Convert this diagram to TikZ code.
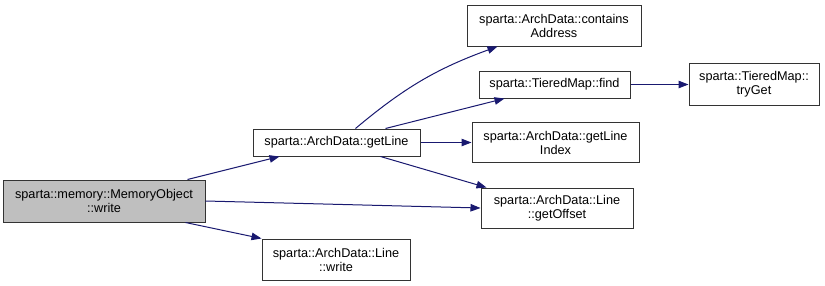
\documentclass[tikz,border=0pt]{standalone}
\usepackage{fontspec}
\setmainfont{Liberation Sans}
\usetikzlibrary{arrows.meta}
\definecolor{callblue}{RGB}{25,25,112}
\definecolor{boxgray}{RGB}{191,191,191}

\begin{document}
\begin{tikzpicture}[x=1pt,y=-1pt,
  fn/.style={draw=black!80, line width=1pt, fill=white, align=center, inner sep=0pt,
    font=\fontsize{12.7}{14}\selectfont},
  call/.style={draw=callblue, line width=1pt, -{Triangle[length=10pt,width=7.5pt]}}]
\useasboundingbox (0,0) rectangle (825,285);
% caller
\node[fn, fill=boxgray, minimum width=202pt, minimum height=42pt] (memwrite) at (104,201) {sparta::memory::MemoryObject\\::write};
% first level
\node[fn, minimum width=167pt, minimum height=27pt] (getline) at (336.5,142.5) {sparta::ArchData::getLine};
\node[fn, minimum width=148pt, minimum height=41pt] (linewrite) at (336,259.5) {sparta::ArchData::Line\\::write};
% second level
\node[fn, minimum width=174pt, minimum height=41pt] (contains) at (554,25.5) {sparta::ArchData::contains\\Address};
\node[fn, minimum width=151pt, minimum height=27pt] (find) at (554.5,84.5) {sparta::TieredMap::find};
\node[fn, minimum width=167pt, minimum height=40pt] (lineindex) at (555.5,142.5) {sparta::ArchData::getLine\\Index};
\node[fn, minimum width=152pt, minimum height=40pt] (getoffset) at (557,208) {sparta::ArchData::Line\\::getOffset};
% third level
\node[fn, minimum width=130pt, minimum height=42pt] (tryget) at (754,84.5) {sparta::TieredMap::\\tryGet};
% calls
\draw[call] ([xshift=-18pt]memwrite.north east) -- ([xshift=27pt]getline.south west);
\draw[call] (memwrite.east) -- (getoffset.west);
\draw[call] ([xshift=-20pt]memwrite.south east) -- (linewrite.north west);
\draw[call] ([xshift=-65pt]getline.north east) to[bend left=10] ([xshift=31pt]contains.south west);
\draw[call] ([xshift=-35pt]getline.north east) -- ([xshift=26pt]find.south west);
\draw[call] (getline.east) -- (lineindex.west);
\draw[call] ([xshift=-40pt]getline.south east) -- ([xshift=6pt]getoffset.north west);
\draw[call] (find.east) -- (tryget.west);
\end{tikzpicture}
\end{document}
